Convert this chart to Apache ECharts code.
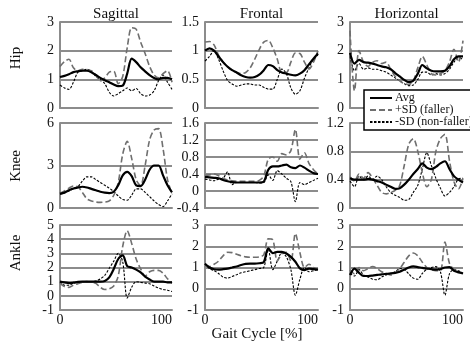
<!DOCTYPE html>
<html>
<head>
<meta charset="utf-8">
<script src="https://cdn.jsdelivr.net/npm/echarts@6/dist/echarts.min.js"></script>
<style>
html,body{margin:0;padding:0;background:#fff;}
#container1{width:470px;height:341px;}
</style>
</head>
<body>
<div id="container1"></div>
<script>
// gait cycle positions [%]
var gait = [0,4,8,12,16,20,24,28,32,36,40,44,48,52,56,60,64,68,72,76,80,84,88,92,96,100];

// Hip
var hipSagAvg    = [1.08,1.12,1.18,1.25,1.28,1.3,1.3,1.25,1.15,1.05,0.97,0.9,0.82,0.76,0.78,1.2,1.72,1.6,1.42,1.28,1.15,1.05,1.0,1.05,1.05,1.0];
var hipSagFaller = [1.45,1.62,1.7,1.4,1.3,1.35,1.32,1.3,1.15,0.95,1.05,1.25,1.28,0.85,1.1,2.1,2.8,2.75,2.3,1.9,1.45,1.15,1.05,1.2,1.3,0.9];
var hipSagNon    = [0.8,0.7,0.65,0.9,1.25,1.3,1.35,1.28,1.1,1.0,0.85,0.55,0.42,0.5,0.6,0.7,0.6,0.68,0.5,0.42,0.45,0.6,0.95,1.15,0.9,0.65];
var hipFroAvg    = [1.0,1.04,1.0,0.9,0.8,0.72,0.66,0.62,0.57,0.54,0.53,0.54,0.58,0.66,0.75,0.73,0.66,0.62,0.6,0.58,0.57,0.6,0.66,0.76,0.86,0.95];
var hipFroFaller = [1.15,1.16,1.1,0.92,0.8,0.72,0.66,0.62,0.6,0.62,0.7,0.85,1.02,1.15,1.18,1.05,0.85,0.62,0.62,0.8,0.96,0.95,0.8,0.68,0.8,1.0];
var hipFroNon    = [0.82,0.9,1.0,0.85,0.65,0.48,0.42,0.38,0.4,0.42,0.42,0.4,0.4,0.36,0.33,0.33,0.5,0.68,0.6,0.35,0.24,0.3,0.52,0.7,0.85,0.92];
var hipHorAvg    = [1.92,1.55,1.68,1.6,1.58,1.55,1.5,1.45,1.42,1.35,1.22,1.1,0.98,0.9,0.95,1.2,1.5,1.38,1.3,1.28,1.28,1.3,1.45,1.7,1.8,1.8];
var hipHorFaller = [2.7,0.6,2.0,1.6,1.45,1.6,1.65,1.55,1.6,1.35,1.1,0.95,0.85,0.82,0.95,1.4,1.8,1.5,1.2,1.15,1.2,1.3,1.6,2.05,1.6,2.35];
var hipHorNon    = [1.8,1.3,1.55,1.35,1.4,1.35,1.35,1.3,1.25,1.15,1.05,0.95,0.85,0.78,0.8,1.0,1.25,1.25,1.15,1.2,1.15,1.2,1.35,1.6,1.75,1.7];

// Knee
var kneeSagAvg    = [1.0,1.1,1.25,1.38,1.45,1.5,1.45,1.35,1.25,1.15,1.08,1.05,1.15,1.6,2.3,2.55,2.25,1.6,1.55,2.0,2.7,3.0,3.0,2.3,1.6,1.1];
var kneeSagFaller = [1.05,1.2,1.4,1.55,1.5,1.1,0.65,0.5,0.42,0.4,0.42,0.5,0.9,1.8,3.8,4.7,3.5,2.0,1.6,3.0,4.8,5.5,5.6,4.2,2.0,1.0];
var kneeSagNon    = [1.0,1.05,1.2,1.35,1.5,1.9,2.2,2.2,2.0,1.8,1.6,1.4,1.15,0.85,0.6,0.55,0.9,1.35,1.35,1.1,0.8,0.5,0.25,0.1,0.5,1.0];
var kneeFroAvg    = [0.33,0.32,0.31,0.3,0.26,0.23,0.21,0.2,0.2,0.2,0.2,0.2,0.2,0.22,0.5,0.58,0.58,0.6,0.62,0.56,0.54,0.6,0.55,0.48,0.42,0.4];
var kneeFroFaller = [0.37,0.38,0.4,0.36,0.3,0.26,0.24,0.23,0.23,0.23,0.23,0.23,0.25,0.35,0.75,0.8,0.7,0.88,0.85,0.95,1.45,0.75,0.9,0.65,0.5,0.4];
var kneeFroNon    = [0.28,0.26,0.24,0.28,0.3,0.45,0.15,0.2,0.2,0.2,0.2,0.2,0.19,0.2,0.38,0.25,0.48,0.4,0.3,0.22,-0.25,0.2,0.15,0.2,0.25,0.3];
var kneeHorAvg    = [0.42,0.4,0.4,0.4,0.41,0.4,0.38,0.36,0.33,0.3,0.27,0.28,0.33,0.4,0.48,0.55,0.63,0.57,0.55,0.58,0.63,0.66,0.55,0.45,0.4,0.36];
var kneeHorFaller = [0.44,0.38,0.48,0.42,0.5,0.42,0.32,0.22,0.2,0.22,0.25,0.32,0.6,0.9,0.98,0.8,0.5,0.3,0.4,0.8,0.98,1.04,0.67,0.37,0.27,0.42];
var kneeHorNon    = [0.38,0.3,0.45,0.4,0.45,0.4,0.45,0.4,0.3,0.22,0.18,0.15,0.11,0.12,0.22,0.32,0.55,0.78,0.6,0.42,0.28,0.17,0.22,0.3,0.41,0.42];

// Ankle
var ankleSagAvg    = [1.0,0.95,0.9,0.93,0.98,1.0,1.0,1.0,1.0,1.0,1.05,1.3,1.9,2.6,2.85,2.1,2.0,1.85,1.65,1.35,1.15,1.0,1.0,1.0,0.95,0.95];
var ankleSagFaller = [0.9,0.65,0.6,0.75,0.85,0.95,1.0,0.95,0.88,0.6,0.45,0.5,0.7,1.4,3.5,4.6,3.7,2.6,1.9,1.4,1.7,1.8,1.8,1.6,1.2,0.9];
var ankleSagNon    = [1.0,0.75,0.75,0.9,0.95,1.0,1.0,1.0,1.05,1.2,1.45,1.95,2.45,3.0,2.4,-0.15,0.6,1.0,0.95,0.9,0.85,0.7,0.55,0.45,0.4,0.3];
var ankleFroAvg    = [1.18,1.0,0.92,0.9,0.92,0.95,1.0,1.05,1.12,1.17,1.18,1.18,1.2,1.25,1.9,1.68,1.74,1.74,1.66,1.5,1.27,0.96,0.88,0.95,0.92,0.9];
var ankleFroFaller = [1.1,1.05,1.15,1.3,1.55,1.72,1.7,1.62,1.55,1.5,1.48,1.48,1.5,1.6,2.35,2.3,1.3,1.65,1.72,1.3,2.6,1.7,1.0,1.15,1.0,0.9];
var ankleFroNon    = [1.18,0.95,0.85,0.72,0.55,0.5,0.58,0.66,0.75,0.8,0.85,0.9,0.95,1.0,1.85,0.9,1.3,1.7,1.5,0.9,-0.3,0.45,1.0,0.8,0.85,0.9];
var ankleHorAvg    = [0.65,0.95,0.75,0.6,0.6,0.62,0.65,0.68,0.7,0.72,0.75,0.8,0.9,1.0,1.05,1.02,0.98,0.95,0.92,0.9,0.92,1.0,1.02,0.85,0.78,0.72];
var ankleHorFaller = [0.88,0.7,1.0,0.85,0.95,1.05,0.95,0.8,0.72,0.65,0.75,0.95,1.25,1.55,1.68,1.55,1.25,1.0,0.9,0.85,0.85,2.2,1.2,0.9,0.75,0.75];
var ankleHorNon    = [0.72,0.6,0.9,0.65,0.55,0.45,0.42,0.55,0.65,0.72,0.8,0.95,0.9,0.7,0.5,0.45,0.72,0.92,1.0,1.04,0.8,-0.3,0.7,0.9,0.85,0.72];

// axis scales per panel (row by row)
var yMins  = [0, 0, 0,   0, -0.4, 0,   -1, -1, -1];
var yMaxs  = [3, 1.5, 3, 6, 1.6, 1.2,  5, 3, 3];
var ySteps = [1, 0.5, 1, 3, 0.4, 0.4,  1, 1, 1];

var colNames = ['Sagittal','Frontal','Horizontal'];
var rowNames = ['Hip','Knee','Ankle'];
var seriesNames = ['Avg','+SD (faller)','-SD (non-faller)'];

var panels = [
	[hipSagAvg, hipSagFaller, hipSagNon],
	[hipFroAvg, hipFroFaller, hipFroNon],
	[hipHorAvg, hipHorFaller, hipHorNon],
	[kneeSagAvg, kneeSagFaller, kneeSagNon],
	[kneeFroAvg, kneeFroFaller, kneeFroNon],
	[kneeHorAvg, kneeHorFaller, kneeHorNon],
	[ankleSagAvg, ankleSagFaller, ankleSagNon],
	[ankleFroAvg, ankleFroFaller, ankleFroNon],
	[ankleHorAvg, ankleHorFaller, ankleHorNon]
];

function pairs(arr){
	var out=[];
	for(var i=0;i<gait.length;++i){
		out.push([gait[i], arr[i]]);
	}
	return out;
}

var colLeft  = [60, 205, 350];
var colWidth = [112, 113, 113];
var rowTop   = [22, 123, 225];
var rowHeight= [86, 85, 85];
var gridGray = '#8c8c8c';
var serif = 'Liberation Serif';

var lineStyles = [
	{color:'#000', width:2.2, type:'solid'},
	{color:'#6f6f6f', width:1.6, type:[6,3]},
	{color:'#000', width:1.1, type:[2.5,1.5]}
];

var grids=[], xAxes=[], yAxes=[], series=[];
for(var r=0;r<3;++r){
	for(var c=0;c<3;++c){
		var i=r*3+c;
		grids.push({left:colLeft[c], top:rowTop[r], width:colWidth[c], height:rowHeight[r]});
		xAxes.push({
			type:'value', gridIndex:i, min:0, max:100, interval:100,
			axisLine:{onZero:false, lineStyle:{color:gridGray, width:2}},
			axisTick:{show:false},
			splitLine:{show:false},
			axisLabel:{show:r==2, color:'#111', fontFamily:serif, fontSize:14, margin:3,
				alignMinLabel:'center', alignMaxLabel:'right'}
		});
		yAxes.push({
			type:'value', gridIndex:i, min:yMins[i], max:yMaxs[i], interval:ySteps[i],
			axisLine:{show:true, lineStyle:{color:gridGray, width:2}},
			axisTick:{show:false},
			splitLine:{lineStyle:{color:gridGray, width:2}},
			axisLabel:{color:'#111', fontFamily:serif, fontSize:14, margin:6}
		});
		for(var s=2;s>=0;--s){
			series.push({
				name:seriesNames[s], type:'line', xAxisIndex:i, yAxisIndex:i,
				symbol:'none', smooth:0.3, animation:false,
				color:lineStyles[s].color,
				lineStyle:lineStyles[s],
				z: s==0 ? 4 : 3,
				data:pairs(panels[i][s])
			});
		}
	}
}

var texts=[];
for(var c=0;c<3;++c){
	texts.push({type:'text', x:colLeft[c]+colWidth[c]/2, y:14,
		style:{text:colNames[c], fontFamily:serif, fontSize:15, fill:'#111', align:'center', verticalAlign:'middle'}});
}
var rowLabelY=[58,166,253];
for(var r=0;r<3;++r){
	texts.push({type:'text', x:16, y:rowLabelY[r], rotation:Math.PI/2,
		style:{text:rowNames[r], fontFamily:serif, fontSize:15, fill:'#111', align:'center', verticalAlign:'middle'}});
}
texts.push({type:'text', x:257, y:334,
	style:{text:'Gait Cycle [%]', fontFamily:serif, fontSize:15, fill:'#111', align:'center', verticalAlign:'middle'}});

var option = {
	backgroundColor:'#fff',
	animation:false,
	grid:grids,
	xAxis:xAxes,
	yAxis:yAxes,
	legend:{
		data:seriesNames,
		orient:'vertical', left:364, top:90,
		itemWidth:22, itemHeight:8, itemGap:0,
		padding:[2,6,2,5],
		itemStyle:{opacity:0},
		backgroundColor:'#fff', borderColor:'#000', borderWidth:1.5,
		textStyle:{fontFamily:serif, fontSize:12, color:'#111', lineHeight:12, padding:[0,0,0,-2]}
	},
	graphic:texts,
	series:series
};

var myChart = echarts.init(document.getElementById('container1'));
myChart.setOption(option);
</script>
</body>
</html>
